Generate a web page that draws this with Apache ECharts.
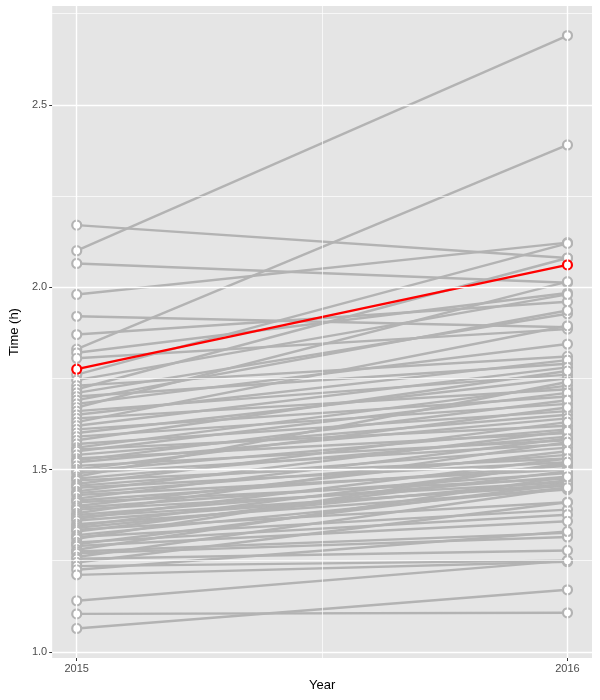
<!DOCTYPE html>
<html>
<head>
<meta charset="utf-8">
<script src="https://cdn.jsdelivr.net/npm/echarts@6/dist/echarts.min.js"></script>
<style>
  html, body { margin: 0; padding: 0; background: #fff; }
  #chart { width: 600px; height: 700px; }
</style>
</head>
<body>
<div id="chart"></div>
<script>
// years on x axis
const years = [2015, 2016]

// time (h) for each runner, 2015 and 2016 (same order)
const time2015 = [2.17, 2.10, 2.065, 1.98, 1.92, 1.87, 1.83, 1.82, 1.805, 1.76,
  1.745, 1.73, 1.72, 1.71, 1.70, 1.69, 1.68, 1.67, 1.66, 1.65,
  1.64, 1.63, 1.62, 1.61, 1.60, 1.59, 1.58, 1.57, 1.56, 1.555,
  1.55, 1.54, 1.53, 1.525, 1.52, 1.51, 1.50, 1.495, 1.49, 1.48,
  1.475, 1.47, 1.46, 1.455, 1.45, 1.44, 1.435, 1.43, 1.42, 1.415,
  1.41, 1.40, 1.395, 1.39, 1.38, 1.375, 1.37, 1.365, 1.36, 1.35,
  1.345, 1.34, 1.335, 1.33, 1.32, 1.315, 1.31, 1.30, 1.295, 1.29,
  1.28, 1.275, 1.27, 1.26, 1.255, 1.245, 1.235, 1.225, 1.211, 1.14,
  1.104, 1.064]
const time2016 = [2.08, 2.69, 2.012, 2.122, 1.89, 1.96, 2.39, 1.984, 1.885, 2.12,
  1.98, 1.81, 2.08, 1.927, 1.79, 1.936, 1.844, 2.015, 1.76, 1.80,
  1.72, 1.894, 1.78, 1.70, 1.75, 1.68, 1.77, 1.66, 1.73, 1.62,
  1.71, 1.65, 1.60, 1.69, 1.64, 1.58, 1.67, 1.61, 1.57, 1.74,
  1.59, 1.53, 1.63, 1.56, 1.52, 1.605, 1.54, 1.50, 1.585, 1.51,
  1.475, 1.55, 1.49, 1.465, 1.575, 1.48, 1.455, 1.53, 1.46, 1.445,
  1.515, 1.47, 1.41, 1.495, 1.45, 1.39, 1.52, 1.376, 1.46, 1.358,
  1.48, 1.326, 1.315, 1.45, 1.278, 1.41, 1.25, 1.33, 1.247, 1.25,
  1.107, 1.17]

// highlighted runner
const highlight = [1.775, 2.061]

// axis ticks
const xTicks = [2015, 2016]
const yTicks = [1.0, 1.5, 2.0, 2.5]
const yMinor = [1.25, 1.75, 2.25, 2.75]
const xMinor = [2015.5]

const GREY = '#b3b3b3'
const chart = echarts.init(document.getElementById('chart'))

// gridlines (ggplot style) drawn as markLines
const gridLines = []
yTicks.forEach(v => gridLines.push({ yAxis: v, lineStyle: { width: 1.4 } }))
xTicks.forEach(v => gridLines.push({ xAxis: v, lineStyle: { width: 1.4 } }))
yMinor.forEach(v => gridLines.push({ yAxis: v, lineStyle: { width: 0.7 } }))
xMinor.forEach(v => gridLines.push({ xAxis: v, lineStyle: { width: 0.7 } }))

const series = [{
  type: 'line',
  data: [],
  z: 1,
  silent: true,
  markLine: {
    silent: true,
    symbol: ['none', 'none'],
    label: { show: false },
    lineStyle: { color: '#ffffff', type: 'solid' },
    data: gridLines
  }
}]

// grey lines
time2015.forEach((v, i) => {
  series.push({
    type: 'line',
    z: 2,
    showSymbol: false,
    data: [[years[0], v], [years[1], time2016[i]]],
    lineStyle: { color: GREY, width: 2.4 }
  })
})

// grey points
const points = []
time2015.forEach((v, i) => {
  points.push([years[0], v])
  points.push([years[1], time2016[i]])
})
series.push({
  type: 'scatter',
  z: 3,
  data: points,
  symbol: 'circle',
  symbolSize: 9,
  itemStyle: { color: '#ffffff', borderColor: GREY, borderWidth: 2.2, opacity: 1 }
})

// red line + points
series.push({
  type: 'line',
  z: 4,
  data: [[years[0], highlight[0]], [years[1], highlight[1]]],
  symbol: 'circle',
  symbolSize: 9,
  showSymbol: true,
  lineStyle: { color: '#ff0000', width: 2.4 },
  itemStyle: { color: '#ffffff', borderColor: '#ff0000', borderWidth: 2.2 }
})

const option = {
  animation: false,
  backgroundColor: '#ffffff',
  grid: {
    left: 50,
    right: 8,
    top: 6,
    bottom: 42,
    show: true,
    backgroundColor: '#e5e5e5',
    borderWidth: 0
  },
  xAxis: {
    type: 'value',
    min: 2014.95,
    max: 2016.05,
    name: 'Year',
    nameLocation: 'middle',
    nameGap: 20,
    nameTextStyle: { color: '#000', fontSize: 13, fontFamily: 'Liberation Sans' },
    axisLine: { show: false },
    axisTick: { show: true, length: 3, customValues: xTicks, lineStyle: { color: '#333' } },
    axisLabel: {
      customValues: xTicks,
      margin: 5,
      color: '#4d4d4d',
      fontSize: 11,
      fontFamily: 'Liberation Sans',
      formatter: v => String(v)
    },
    splitLine: { show: false }
  },
  yAxis: {
    type: 'value',
    min: 0.983,
    max: 2.771,
    name: 'Time (h)',
    nameLocation: 'middle',
    nameRotate: 90,
    nameGap: 24,
    nameTextStyle: { color: '#000', fontSize: 13, fontFamily: 'Liberation Sans' },
    axisLine: { show: false },
    axisTick: { show: true, length: 3, customValues: yTicks, lineStyle: { color: '#333' } },
    axisLabel: {
      customValues: yTicks,
      margin: 5,
      color: '#4d4d4d',
      fontSize: 11,
      fontFamily: 'Liberation Sans',
      formatter: v => v.toFixed(1)
    },
    splitLine: { show: false }
  },
  series: series
}

chart.setOption(option)
</script>
</body>
</html>
